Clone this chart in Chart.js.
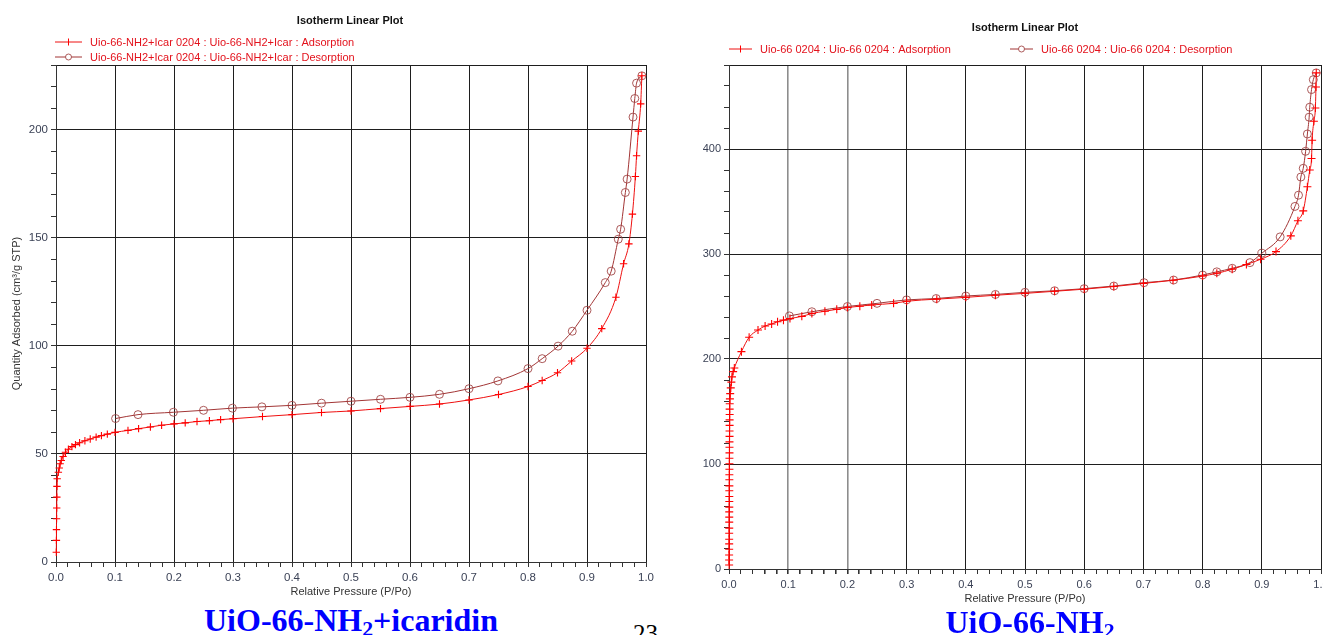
<!DOCTYPE html>
<html>
<head>
<meta charset="utf-8">
<title>Isotherm Linear Plot</title>
<script src="https://cdn.jsdelivr.net/npm/chart.js@4.4.1/dist/chart.umd.min.js"></script>
<style>
html, body { margin: 0; padding: 0; background: #fff; width: 1323px; height: 635px; overflow: hidden; }
.box { position: absolute; top: 0; }
#leftBox { left: 0; width: 660px; height: 600px; }
#rightBox { left: 690px; width: 660px; height: 610px; }
.cap { position: absolute; z-index: 2; white-space: nowrap; font-family: "Liberation Serif", "Times New Roman", serif;
       font-weight: bold; font-size: 32px; line-height: 32px; color: #0000ff; transform: translateX(-50%); }
.cap sub { font-size: 0.68em; line-height: 0; vertical-align: -0.22em; }
#pageNo { position: absolute; z-index: 2; left: 633px; top: 621px; font-family: "Liberation Serif", serif;
          font-size: 25px; line-height: 25px; color: #000; }
</style>
</head>
<body>
<div class="box" id="leftBox"><canvas id="leftChart" width="660" height="600"></canvas></div>
<div class="box" id="rightBox"><canvas id="rightChart" width="660" height="610"></canvas></div>
<div class="cap" style="left:351px;top:604px">UiO-66-NH<sub>2</sub>+icaridin</div>
<div class="cap" style="left:1030px;top:606px">UiO-66-NH<sub>2</sub></div>
<div id="pageNo">23</div>

<script>
// UiO-66-NH2 + icaridin  (P/Po , cm3/g STP)
var leftAdsP = [0.0005, 0.0007, 0.0008, 0.001, 0.0012, 0.0014, 0.0016, 0.002, 0.004, 0.0055, 0.007, 0.009,
	0.012, 0.016, 0.021, 0.027, 0.033, 0.04, 0.049, 0.058, 0.068, 0.077, 0.087, 0.1, 0.122, 0.14, 0.16,
	0.179, 0.2, 0.219, 0.239, 0.26, 0.279, 0.3, 0.35, 0.4, 0.45, 0.5, 0.55, 0.6, 0.65, 0.7, 0.75, 0.8,
	0.824, 0.85, 0.874, 0.9, 0.925, 0.949, 0.962, 0.971, 0.977, 0.982, 0.984, 0.987, 0.991, 0.993];
var leftAdsQ = [4.5, 10, 15, 20, 25, 30, 35, 38.5, 41.5, 43.5, 45.5, 47,
	48.8, 50.8, 52.2, 53.4, 54.3, 55.2, 56.1, 56.9, 57.8, 58.5, 59.2, 60, 60.9, 61.7, 62.5,
	63.3, 63.9, 64.4, 65, 65.4, 65.9, 66.3, 67.3, 68.2, 69.2, 69.9, 71, 72, 73.1, 75, 77.5, 81.2,
	84, 87.6, 93, 98.9, 108, 122.5, 138, 147.2, 161, 178.4, 188, 199.4, 212, 225];
var leftDesP = [0.101, 0.139, 0.199, 0.25, 0.299, 0.349, 0.4, 0.45, 0.5, 0.55, 0.6, 0.65, 0.7, 0.749, 0.8,
	0.824, 0.851, 0.875, 0.9, 0.931, 0.941, 0.953, 0.957, 0.965, 0.968, 0.978, 0.981, 0.984, 0.993];
var leftDesQ = [66.4, 68.2, 69.3, 70.2, 71.2, 71.8, 72.5, 73.5, 74.4, 75.3, 76.2, 77.6, 80.2, 83.8, 89.5,
	94.1, 99.9, 106.8, 116.5, 129.3, 134.6, 149.4, 154, 171, 177.2, 205.9, 214.5, 221.6, 225];

// UiO-66-NH2
var rightAdsP = [0.0002, 0.0002, 0.0002, 0.0003, 0.0003, 0.0003, 0.0003, 0.0004, 0.0004, 0.0004, 0.0004,
	0.0005, 0.0005, 0.0005, 0.0005, 0.0006, 0.0006, 0.0006, 0.0007, 0.0007, 0.0007, 0.0008, 0.0008, 0.0008,
	0.0009, 0.0009, 0.001, 0.001, 0.0011, 0.0011, 0.0012, 0.0015, 0.002, 0.003, 0.004, 0.005, 0.007, 0.009,
	0.021, 0.034, 0.049, 0.061, 0.072, 0.082, 0.092, 0.103, 0.123, 0.14, 0.162, 0.182, 0.2, 0.221, 0.241,
	0.278, 0.3, 0.351, 0.4, 0.45, 0.5, 0.55, 0.6, 0.65, 0.7, 0.75, 0.8, 0.824, 0.85, 0.874, 0.898, 0.924,
	0.949, 0.961, 0.97, 0.977, 0.981, 0.984, 0.985, 0.988, 0.9905, 0.9915, 0.992];
var rightAdsQ = [3.8, 8.6, 13.4, 18.8, 23.9, 28.3, 34, 38.9, 44.6, 49.4, 54.4,
	58.9, 64.3, 69, 74.5, 79.2, 85, 89.8, 95, 100.2, 105.5, 110.6, 116, 121.1,
	126.3, 131.5, 136.8, 142, 147.2, 152.3, 157.4, 162, 167, 172.5, 178, 183, 188, 191.5,
	207, 220.7, 227.6, 231.4, 233.3, 235.5, 237, 238.5, 240.6, 243.3, 245.5, 247.3, 249, 250.3, 251.5,
	253, 255, 257, 258.7, 260.7, 262.5, 264.5, 266.5, 269, 272, 275, 279, 281.6, 285.5, 290, 295, 302.3,
	317.3, 331.6, 341.1, 364, 380, 391, 408.3, 426.5, 439, 459, 472.5];
var rightDesP = [0.102, 0.14, 0.2, 0.25, 0.3, 0.35, 0.4, 0.45, 0.5, 0.55, 0.6, 0.65, 0.701, 0.751, 0.8,
	0.824, 0.85, 0.88, 0.9, 0.931, 0.956, 0.962, 0.966, 0.97, 0.974, 0.977, 0.98, 0.981, 0.984, 0.987, 0.992];
var rightDesQ = [241, 245, 250, 253, 256.3, 257.6, 260, 261.5, 263.5, 265, 267, 269.5, 272.7, 275.2, 280,
	283, 286.4, 291.8, 300.7, 316.3, 345.3, 356, 373.3, 381.6, 397.8, 414.3, 430.3, 439.8, 456.6, 466, 472.5];

var xTickValues = [0, 0.1, 0.2, 0.3, 0.4, 0.5, 0.6, 0.7, 0.8, 0.9, 1.0];
var xTickLabels = ['0.0', '0.1', '0.2', '0.3', '0.4', '0.5', '0.6', '0.7', '0.8', '0.9', '1.0'];
var leftYTicks = [0, 50, 100, 150, 200];
var rightYTicks = [0, 100, 200, 300, 400];

var plotTitle = 'Isotherm Linear Plot';
var xTitle = 'Relative Pressure (P/Po)';
var yTitle = 'Quantity Adsorbed (cm\u00b3/g STP)';
var leftLabels = ['Uio-66-NH2+Icar 0204 : Uio-66-NH2+Icar : Adsorption',
	'Uio-66-NH2+Icar 0204 : Uio-66-NH2+Icar : Desorption'];
var rightLabels = ['Uio-66 0204 : Uio-66 0204 : Adsorption', 'Uio-66 0204 : Uio-66 0204 : Desorption'];

var FONT = '"Liberation Sans", Arial, sans-serif';
var adsLine = '#ee1010', adsMark = '#ff0000';
var desLine = '#a23535', desMark = 'rgba(158,62,62,0.85)';
var legendText = '#e3121c';

function toPoints(px, qy) {
	return px.map(function(p, i) { return { x: p, y: qy[i] }; });
}

function findIn(v, list) {
	for (var i = 0; i < list.length; i++) {
		if (Math.abs(v - list[i]) < 1e-6) return i;
	}
	return -1;
}

// title + legend drawn by hand (line with marker in the middle, like the instrument software)
var decorPlugin = {
	id: 'decor',
	afterDraw: function(chart, args, o) {
		var ctx = chart.ctx;
		ctx.save();
		ctx.fillStyle = '#111';
		ctx.font = 'bold ' + o.titleSize + 'px ' + FONT;
		ctx.textAlign = 'center';
		ctx.textBaseline = 'middle';
		ctx.fillText(o.title, o.titleX, o.titleY);

		ctx.font = o.legendSize + 'px ' + FONT;
		ctx.textAlign = 'left';
		chart.data.datasets.forEach(function(ds, i) {
			var p = o.items[i];
			var mx = p[0] + o.lineLen / 2;
			ctx.lineWidth = 1;
			ctx.strokeStyle = ds.borderColor;
			ctx.beginPath();
			ctx.moveTo(p[0], p[1]);
			ctx.lineTo(p[0] + o.lineLen, p[1]);
			ctx.stroke();
			ctx.strokeStyle = ds.pointBorderColor;
			ctx.beginPath();
			if (ds.pointStyle === 'circle') {
				ctx.fillStyle = '#fff';
				ctx.arc(mx, p[1], 3, 0, Math.PI * 2);
				ctx.fill();
			} else {
				ctx.moveTo(mx, p[1] - 3.5);
				ctx.lineTo(mx, p[1] + 3.5);
			}
			ctx.stroke();
			ctx.fillStyle = legendText;
			ctx.fillText(ds.label, p[0] + o.lineLen + 8, p[1] + 0.5);
		});
		ctx.restore();
	}
};

function buildChart(id, s) {
	var ctx = document.getElementById(id);
	return new Chart(ctx, {
		type: 'line',
		data: {
			datasets: [{
				label: s.labels[0],
				data: toPoints(s.adsP, s.adsQ),
				borderColor: adsLine,
				borderWidth: 1,
				pointStyle: 'cross',
				pointRadius: s.markR,
				pointBorderColor: adsMark,
				pointBorderWidth: 1.1,
				pointBackgroundColor: 'rgba(0,0,0,0)',
				cubicInterpolationMode: 'monotone',
				clip: 8,
				order: 1
			}, {
				label: s.labels[1],
				data: toPoints(s.desP, s.desQ),
				borderColor: desLine,
				borderWidth: 1,
				pointStyle: 'circle',
				pointRadius: 4,
				pointBorderColor: desMark,
				pointBorderWidth: 1,
				pointBackgroundColor: 'rgba(0,0,0,0)',
				cubicInterpolationMode: 'monotone',
				clip: 8,
				order: 2
			}]
		},
		options: {
			responsive: false,
			animation: false,
			devicePixelRatio: 1,
			layout: { padding: { left: 0, top: 65, right: s.padRight, bottom: 0 } },
			plugins: {
				legend: { display: false },
				tooltip: { enabled: false },
				decor: s.decor
			},
			scales: {
				x: {
					type: 'linear',
					min: 0,
					max: 1,
					afterFit: function(scale) { scale.height = s.xHeight; },
					ticks: {
						stepSize: 0.02,
						autoSkip: false,
						maxRotation: 0,
						padding: s.xPad,
						color: '#3b4256',
						font: { family: FONT, size: s.tickSize },
						callback: function(v) {
							var k = findIn(v, xTickValues);
							return k < 0 ? '' : xTickLabels[k];
						}
					},
					grid: {
						color: function(c) {
							var v = c.tick ? c.tick.value : -1;
							if (findIn(v, xTickValues) < 0) return 'rgba(0,0,0,0)';
							return s.grayX.indexOf(Math.round(v * 10)) >= 0 ? '#8d8d8d' : '#1e1e1e';
						},
						lineWidth: function(c) {
							var v = c.tick ? c.tick.value : -1;
							return s.grayX.indexOf(Math.round(v * 10)) >= 0 ? 1.6 : 1;
						},
						tickColor: '#333',
						tickLength: 5
					},
					border: { color: '#333', width: 1 },
					title: {
						display: true,
						text: xTitle,
						color: '#333',
						font: { family: FONT, size: s.xTitleSize },
						padding: { top: 0, bottom: s.xTitlePad }
					}
				},
				y: {
					type: 'linear',
					min: 0,
					max: s.yMax,
					afterFit: function(scale) { scale.width = s.yWidth; },
					ticks: {
						stepSize: s.yStep,
						autoSkip: false,
						padding: 3,
						color: '#3b4256',
						font: { family: FONT, size: s.tickSize },
						callback: function(v) {
							return findIn(v, s.yTicks) < 0 ? '' : String(v);
						}
					},
					grid: {
						color: function(c) {
							var v = c.tick ? c.tick.value : -1;
							return (findIn(v, s.yTicks) >= 0 || v === s.yMax) ? '#1e1e1e' : 'rgba(0,0,0,0)';
						},
						tickColor: '#333',
						tickLength: 5
					},
					border: { color: '#333', width: 1 },
					title: {
						display: s.showYTitle,
						text: yTitle,
						color: '#333',
						font: { family: FONT, size: 11 },
						padding: { top: 10, bottom: 0 }
					}
				}
			}
		},
		plugins: [decorPlugin]
	});
}

buildChart('leftChart', {
	adsP: leftAdsP, adsQ: leftAdsQ, desP: leftDesP, desQ: leftDesQ,
	labels: leftLabels,
	markR: 3.7,
	yMax: 230, yStep: 10, yTicks: leftYTicks,
	yWidth: 56, xHeight: 38, padRight: 14,
	tickSize: 11.5, xPad: 4, xTitleSize: 11, xTitlePad: 1,
	grayX: [],
	showYTitle: true,
	decor: {
		title: plotTitle, titleX: 350, titleY: 21, titleSize: 11,
		legendSize: 11, lineLen: 27,
		items: [[55, 42], [55, 57]]
	}
});

buildChart('rightChart', {
	adsP: rightAdsP, adsQ: rightAdsQ, desP: rightDesP, desQ: rightDesQ,
	labels: rightLabels,
	markR: 4,
	yMax: 480, yStep: 20, yTicks: rightYTicks,
	yWidth: 39, xHeight: 41, padRight: 29,
	tickSize: 11, xPad: 4, xTitleSize: 11, xTitlePad: 4,
	grayX: [1, 2],
	showYTitle: false,
	decor: {
		title: plotTitle, titleX: 335, titleY: 28, titleSize: 11,
		legendSize: 11, lineLen: 23,
		items: [[39, 49], [320, 49]]
	}
});
</script>
</body>
</html>
